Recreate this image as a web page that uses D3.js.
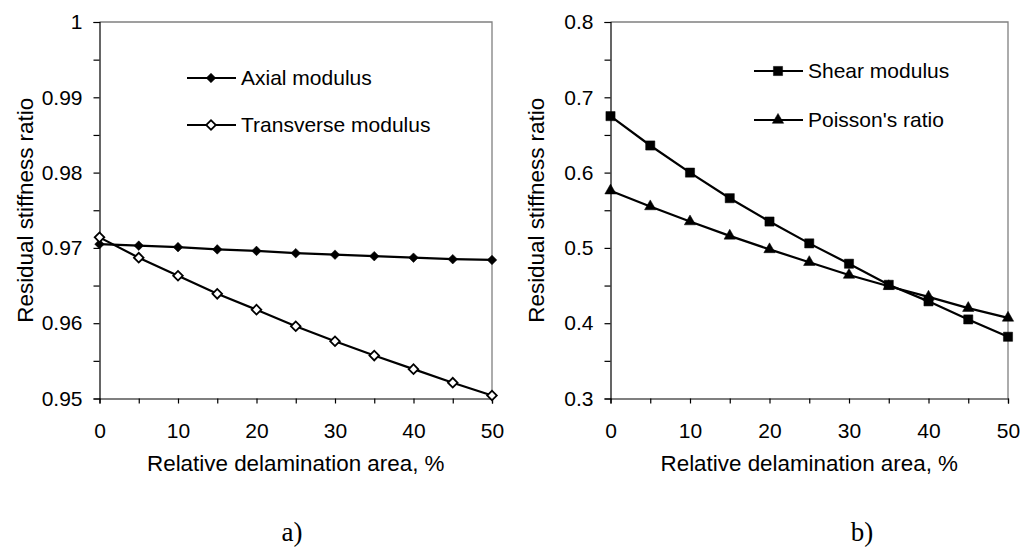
<!DOCTYPE html>
<html>
<head>
<meta charset="utf-8">
<script src="https://cdn.jsdelivr.net/npm/d3@7"></script>
<style>
  body { margin: 0; background: #fff; }
  svg { display: block; }
</style>
</head>
<body>
<div id="chart"></div>
<script>
// --- data ---
const delamination = [0, 5, 10, 15, 20, 25, 30, 35, 40, 45, 50];

const axialModulus      = [0.9705, 0.9703, 0.9701, 0.9698, 0.9696, 0.9693, 0.9691, 0.9689, 0.9687, 0.9685, 0.9684];
const transverseModulus = [0.9714, 0.9687, 0.9663, 0.9639, 0.9618, 0.9596, 0.9576, 0.9557, 0.9539, 0.9521, 0.9504];

const shearModulus  = [0.675, 0.636, 0.600, 0.566, 0.535, 0.506, 0.479, 0.451, 0.429, 0.405, 0.382];
const poissonsRatio = [0.576, 0.555, 0.535, 0.516, 0.498, 0.481, 0.464, 0.449, 0.435, 0.420, 0.407];

const xTicks = [0, 5, 10, 15, 20, 25, 30, 35, 40, 45, 50];
const yTicksA = [0.95, 0.955, 0.96, 0.965, 0.97, 0.975, 0.98, 0.985, 0.99, 0.995, 1];
const yTicksB = [0.3, 0.35, 0.4, 0.45, 0.5, 0.55, 0.6, 0.65, 0.7, 0.75, 0.8];

const W = 1033, H = 550;
const FONT = "'Liberation Sans', Arial, sans-serif";

const svg = d3.select("#chart").append("svg")
    .attr("width", W)
    .attr("height", H);

// marker shapes
const diamond = d3.symbol().type(d3.symbolSquare).size(46);
const square = d3.symbol().type(d3.symbolSquare).size(84);
const triangle = d3.symbol().type(d3.symbolTriangle).size(56);

const drawPanel = (opt) => {
    const x = d3.scaleLinear().domain([0, 50]).range([opt.left, opt.right]);
    const y = d3.scaleLinear().domain(opt.yDomain).range([398.5, 22]);

    const g = svg.append("g");

    // frame (top + right, grey)
    g.append("path")
        .attr("d", `M${opt.left},${y.range()[1]}H${opt.right}V${y.range()[0]}`)
        .attr("fill", "none")
        .attr("stroke", "#808080")
        .attr("stroke-width", 1.3);

    // y axis
    const yAxis = g.append("g")
        .attr("transform", `translate(${opt.left},0)`)
        .call(d3.axisLeft(y)
            .tickValues(opt.yTicks)
            .tickSize(6)
            .tickPadding(11)
            .tickFormat((d, i) => i % 2 === 0 ? opt.fmt(d) : ""));

    // x axis
    const xAxis = g.append("g")
        .attr("transform", `translate(0,${y.range()[0]})`)
        .call(d3.axisBottom(x)
            .tickValues(xTicks)
            .tickSize(5)
            .tickPadding(20)
            .tickFormat((d, i) => i % 2 === 0 ? d : ""));

    [yAxis, xAxis].forEach(a => {
        a.select(".domain").attr("stroke", "#000").attr("stroke-width", 1.2);
        a.selectAll(".tick line").attr("stroke", "#000").attr("stroke-width", 1.2);
        a.selectAll(".tick text")
            .attr("fill", "#000")
            .style("font-family", FONT)
            .style("font-size", "21px");
    });

    // axis titles
    g.append("text")
        .attr("x", (opt.left + opt.right) / 2)
        .attr("y", 471)
        .attr("text-anchor", "middle")
        .style("font-family", FONT)
        .style("font-size", "22.4px")
        .text("Relative delamination area, %");

    g.append("text")
        .attr("transform", `translate(${opt.left - 67},${(y.range()[0] + y.range()[1]) / 2}) rotate(-90)`)
        .attr("text-anchor", "middle")
        .style("font-family", FONT)
        .style("font-size", "22.4px")
        .text("Residual stiffness ratio");

    // panel letter
    g.append("text")
        .attr("x", opt.letterX)
        .attr("y", 541)
        .attr("text-anchor", "middle")
        .style("font-family", "'Liberation Serif', 'Times New Roman', serif")
        .style("font-size", "27px")
        .text(opt.letter);

    const line = d3.line()
        .x((d, i) => x(delamination[i]))
        .y(d => y(d));

    opt.series.forEach(s => {
        g.append("path")
            .datum(s.values)
            .attr("d", line)
            .attr("fill", "none")
            .attr("stroke", "#000")
            .attr("stroke-width", 2.2);

        g.selectAll(null)
            .data(s.values)
            .join("path")
            .attr("d", s.symbol)
            .attr("transform", (d, i) => `translate(${x(delamination[i])},${y(d)})${s.rotate ? " rotate(45)" : ""}`)
            .attr("fill", s.fill)
            .attr("stroke", "#000")
            .attr("stroke-width", s.fill === "#fff" ? 1.8 : 0.5);
    });

    // legend
    opt.series.forEach((s, i) => {
        const ly = opt.legendY[i];
        const lg = g.append("g");
        lg.append("line")
            .attr("x1", opt.legendX)
            .attr("x2", opt.legendX + 49)
            .attr("y1", ly)
            .attr("y2", ly)
            .attr("stroke", "#000")
            .attr("stroke-width", 2.2);
        lg.append("path")
            .attr("d", s.symbol)
            .attr("transform", `translate(${opt.legendX + 24},${ly})${s.rotate ? " rotate(45)" : ""}`)
            .attr("fill", s.fill)
            .attr("stroke", "#000")
            .attr("stroke-width", s.fill === "#fff" ? 1.8 : 0.5);
        lg.append("text")
            .attr("x", opt.legendX + 54)
            .attr("y", ly)
            .attr("dy", "0.35em")
            .style("font-family", FONT)
            .style("font-size", "21px")
            .text(s.name);
    });
};

drawPanel({
    left: 99.5, right: 492,
    yDomain: [0.95, 1], yTicks: yTicksA,
    fmt: d => d === 1 ? "1" : d3.format(".2f")(d),
    letter: "a)", letterX: 292,
    legendX: 187, legendY: [78, 125],
    series: [
        { name: "Axial modulus", values: axialModulus, symbol: diamond, rotate: true, fill: "#000" },
        { name: "Transverse modulus", values: transverseModulus, symbol: diamond, rotate: true, fill: "#fff" }
    ]
});

drawPanel({
    left: 610.5, right: 1008,
    yDomain: [0.3, 0.8], yTicks: yTicksB,
    fmt: d3.format(".1f"),
    letter: "b)", letterX: 862,
    legendX: 754, legendY: [71, 120],
    series: [
        { name: "Shear modulus", values: shearModulus, symbol: square, rotate: false, fill: "#000" },
        { name: "Poisson's ratio", values: poissonsRatio, symbol: triangle, rotate: false, fill: "#000" }
    ]
});
</script>
</body>
</html>
